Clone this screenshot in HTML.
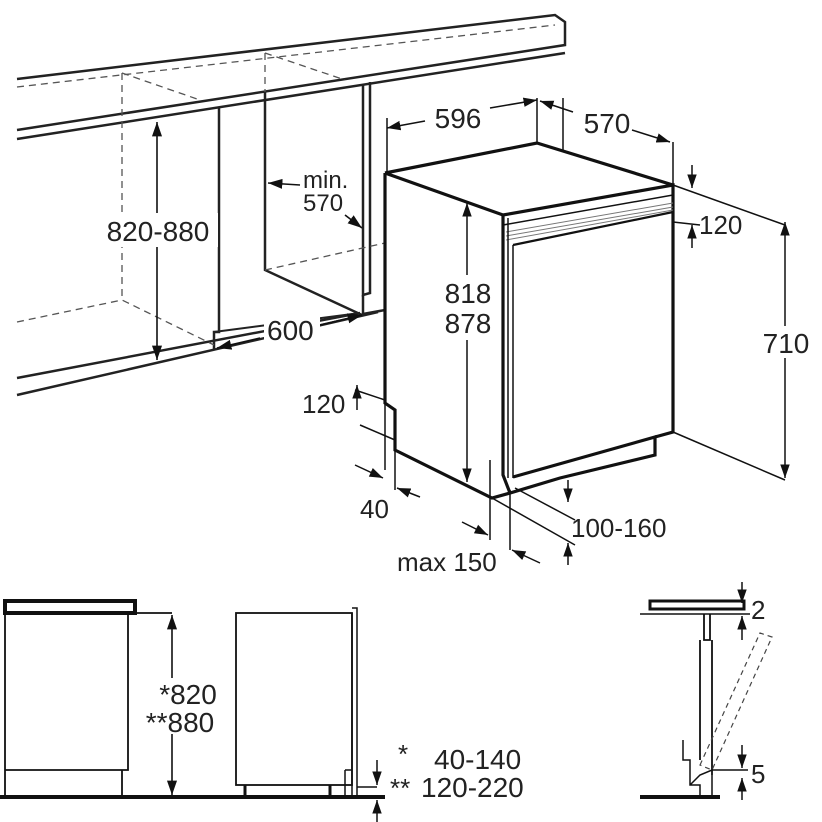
<!DOCTYPE html>
<html><head><meta charset="utf-8"><style>
html,body{margin:0;padding:0;background:#fff;}
svg{display:block;}
text{font-family:"Liberation Sans",sans-serif;fill:#222;}
</style></head><body>
<svg width="822" height="822" viewBox="0 0 822 822" xmlns="http://www.w3.org/2000/svg">
<defs>
<marker id="a" viewBox="0 0 10 10" refX="10" refY="5" markerWidth="9" markerHeight="9" orient="auto-start-reverse"><path d="M0,1.5 L10,5 L0,8.5 z" fill="#111"/></marker>
</defs>
<g stroke="#222" fill="none" stroke-width="2.5">
<path d="M17,79 L555,15 L565,22 L565,45 L17,130"/>
<path d="M17,139 L565,53"/>
<path d="M17,378 L360,313"/>
<path d="M17,395 L378,312"/>
<path d="M219,108 L219,332 L214,332 L214,350"/>
<path d="M214,332 L360,313" stroke-width="2"/>
<path d="M265,92 L265,270 L362,315"/>
<path d="M363,84 L363,295 L370,293 L370,82"/>
<path d="M363,295 L363,314 L385,310"/>
</g>
<g stroke="#555" fill="none" stroke-width="1.3" stroke-dasharray="7,5">
<path d="M17,87 L555,25"/>
<path d="M122,73 L122,300"/>
<path d="M122,73 L200,100"/>
<path d="M17,322 L122,300 L214,345"/>
<path d="M265,53 L265,92"/>
<path d="M265,53 L345,80"/>
<path d="M265,270 L385,243"/>
</g>
<g stroke="#111" stroke-width="1.6" fill="none">
<line x1="157" y1="122" x2="157" y2="360" marker-start="url(#a)" marker-end="url(#a)"/>
<line x1="300" y1="185" x2="268" y2="183" marker-end="url(#a)"/>
<line x1="345" y1="215" x2="362" y2="228" marker-end="url(#a)"/>
<line x1="260" y1="338" x2="217" y2="348" marker-end="url(#a)"/>
<line x1="320" y1="325" x2="362" y2="315" marker-end="url(#a)"/>
</g>
<rect x="100" y="213" width="118" height="34" fill="#fff"/>
<text x="158" y="241" font-size="28" text-anchor="middle">820-880</text>
<text x="303" y="188" font-size="24">min.</text>
<text x="303" y="211" font-size="24">570</text>
<rect x="264" y="316" width="56" height="28" fill="#fff"/>
<text x="267" y="340" font-size="28">600</text>

<g stroke="#111" fill="none" stroke-width="3.2">
<path d="M385,173 L537,143 L673,185"/>
<path d="M385,173 L385,403 L395,410 L395,450 L492,498 L510,493"/>
<path d="M385,173 L503,215 L673,185 L673,432 L655,437"/>
<path d="M503,215 L503,475 L510,493 L560,478 L655,455 L655,437 L513,477"/>
<path d="M513,245 L673,212" stroke-width="2.2"/>
<path d="M503,225 L673,195" stroke-width="1.5"/>
</g>
<g stroke="#777" stroke-width="1" fill="none">
<path d="M506,232 L673,203"/><path d="M506,236 L673,207"/><path d="M506,240 L673,210"/>
</g>
<g stroke="#111" stroke-width="1.5" fill="none">
<path d="M508,218 L508,478"/><path d="M513,245 L513,478"/>
<path d="M490,460 L490,540"/><path d="M510,490 L510,550"/>
<path d="M492,498 L575,545"/><path d="M515,488 L575,520"/>
<path d="M385,400 L385,470"/><path d="M395,420 L395,490"/>
<path d="M355,390 L385,400"/><path d="M360,425 L395,440"/>
<path d="M387,118 L387,173"/><path d="M537,98 L537,143"/><path d="M563,98 L563,150"/><path d="M673,142 L673,185"/>
<path d="M673,185 L785,225"/><path d="M673,432 L785,480"/><path d="M673,222 L700,225"/>
<line x1="425" y1="121" x2="387" y2="128" marker-end="url(#a)"/>
<line x1="490" y1="108" x2="537" y2="100" marker-end="url(#a)"/>
<line x1="573" y1="112" x2="540" y2="101" marker-end="url(#a)"/>
<line x1="632" y1="130" x2="670" y2="142" marker-end="url(#a)"/>
<line x1="467" y1="275" x2="467" y2="203" marker-end="url(#a)"/>
<line x1="467" y1="340" x2="467" y2="482" marker-end="url(#a)"/>
<line x1="785" y1="222" x2="785" y2="478" marker-start="url(#a)" marker-end="url(#a)"/>
<line x1="692" y1="165" x2="692" y2="188" marker-end="url(#a)"/>
<line x1="692" y1="248" x2="692" y2="225" marker-end="url(#a)"/>
<line x1="357" y1="385" x2="357" y2="410" marker-start="url(#a)"/>
<line x1="568" y1="480" x2="568" y2="502" marker-end="url(#a)"/>
<line x1="568" y1="565" x2="568" y2="543" marker-end="url(#a)"/>
<line x1="355" y1="465" x2="383" y2="478" marker-end="url(#a)"/>
<line x1="420" y1="497" x2="397" y2="488" marker-end="url(#a)"/>
<line x1="462" y1="522" x2="488" y2="535" marker-end="url(#a)"/>
<line x1="540" y1="563" x2="512" y2="550" marker-end="url(#a)"/>
</g>
<rect x="758" y="326" width="56" height="32" fill="#fff"/>
<text x="786" y="353" font-size="28" text-anchor="middle">710</text>
<text x="458" y="128" font-size="28" text-anchor="middle">596</text>
<text x="607" y="133" font-size="28" text-anchor="middle">570</text>
<text x="699" y="234" font-size="26">120</text>
<rect x="438" y="276" width="60" height="64" fill="#fff"/>
<text x="468" y="303" font-size="28" text-anchor="middle">818</text>
<text x="468" y="333" font-size="28" text-anchor="middle">878</text>
<text x="302" y="413" font-size="26">120</text>
<text x="360" y="518" font-size="26">40</text>
<text x="571" y="537" font-size="26">100-160</text>
<text x="397" y="571" font-size="26">max 150</text>

<g stroke="#111" fill="none">
<rect x="5" y="601" width="130" height="12" stroke-width="4"/>
<path d="M5,613 L5,797 M128,613 L128,770 L5,770 M122,770 L122,797 M132,613 L172,613" stroke-width="1.8"/>
<path d="M0,797 L385,797" stroke-width="4"/>
<line x1="172" y1="615" x2="172" y2="795" stroke-width="1.6" marker-start="url(#a)" marker-end="url(#a)"/>
<rect x="236" y="613" width="116" height="172" stroke-width="1.8"/>
<path d="M352,608 L357,608 L357,797 M352,613 L352,797" stroke-width="1.5"/>
<path d="M345,770 L352,770 M345,770 L345,797 M357,787 L377,787" stroke-width="1.5"/>
<path d="M245,785 L245,797 M330,785 L330,797" stroke-width="3"/>
<line x1="377" y1="760" x2="377" y2="785" stroke-width="1.5" marker-end="url(#a)"/>
<line x1="377" y1="822" x2="377" y2="800" stroke-width="1.5" marker-end="url(#a)"/>
</g>
<rect x="150" y="678" width="72" height="56" fill="#fff"/>
<text x="188" y="704" font-size="28" text-anchor="middle">*820</text>
<text x="180" y="732" font-size="28" text-anchor="middle">**880</text>
<text x="398" y="763" font-size="26">*</text>
<text x="434" y="769" font-size="28">40-140</text>
<text x="390" y="797" font-size="26">**</text>
<text x="421" y="797" font-size="28">120-220</text>

<g stroke="#111" fill="none">
<rect x="650" y="601" width="94" height="8" stroke-width="3"/>
<path d="M640,614 L750,614" stroke-width="1.5"/>
<path d="M704,614 L704,640 L710,640 L710,614 M700,640 L700,760 M712,640 L712,775" stroke-width="1.8"/>
<path d="M683,740 L683,760 L690,760 L690,785 L700,785 L700,797 M712,775 L712,797 L700,797 M690,785 L700,775 L712,770 L748,770" stroke-width="1.5"/>
<path d="M640,797 L720,797" stroke-width="4"/>
<line x1="742" y1="582" x2="742" y2="603" stroke-width="1.5" marker-end="url(#a)"/>
<line x1="742" y1="640" x2="742" y2="616" stroke-width="1.5" marker-end="url(#a)"/>
<line x1="742" y1="745" x2="742" y2="768" stroke-width="1.5" marker-end="url(#a)"/>
<line x1="742" y1="800" x2="742" y2="778" stroke-width="1.5" marker-end="url(#a)"/>
</g>
<g stroke="#444" fill="none" stroke-width="1.2" stroke-dasharray="5,4">
<path d="M700,765 L760,633 L772,637 L712,770 Z"/>
</g>
<text x="751" y="619" font-size="26">2</text>
<text x="751" y="783" font-size="26">5</text>
</svg>
</body></html>
